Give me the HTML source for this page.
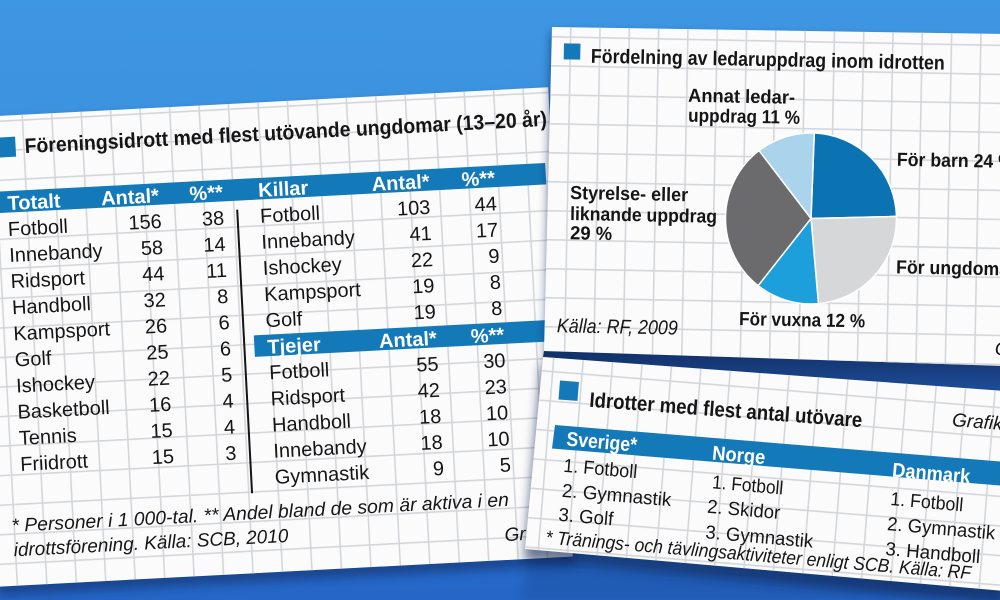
<!DOCTYPE html>
<html>
<head>
<meta charset="utf-8">
<style>
  html, body { margin:0; padding:0; width:1000px; height:600px; overflow:hidden; background:#3a8ddc; }
  svg { display:block; }
  text { font-family: "Liberation Sans", sans-serif; }
</style>
</head>
<body>
<svg width="1000" height="600" viewBox="0 0 1000 600" xmlns="http://www.w3.org/2000/svg">
  <defs>
    <linearGradient id="bg" x1="0" y1="0" x2="0" y2="1">
      <stop offset="0" stop-color="#3e97e3"/>
      <stop offset="0.5" stop-color="#388bdb"/>
      <stop offset="1" stop-color="#2566c6"/>
    </linearGradient>
    <linearGradient id="band" x1="0" y1="0" x2="0" y2="1">
      <stop offset="0" stop-color="#122f66"/>
      <stop offset="1" stop-color="#1f4f9c"/>
    </linearGradient>
    <filter id="sh" x="-20%" y="-20%" width="140%" height="140%">
      <feGaussianBlur stdDeviation="5"/>
    </filter>
    <pattern id="g1" patternUnits="userSpaceOnUse" x="22" y="4.5" width="29.5" height="29.5">
      <path d="M0 0.8H29.5M0.8 0V29.5" stroke="#d3d6da" stroke-width="1.6" fill="none"/>
    </pattern>
    <pattern id="g2" patternUnits="userSpaceOnUse" x="570" y="36" width="29.3" height="29" patternTransform="rotate(1.1 552 27)">
      <path d="M0 0.8H29.3M0.8 0V29" stroke="#d3d6da" stroke-width="1.6" fill="none"/>
    </pattern>
    <pattern id="g3" patternUnits="userSpaceOnUse" x="553" y="370" width="29.5" height="29.5" patternTransform="rotate(4.6 543 357)">
      <path d="M0 0.8H29.5M0.8 0V29.5" stroke="#d3d6da" stroke-width="1.6" fill="none"/>
    </pattern>
  </defs>

  <!-- background -->
  <rect width="1000" height="600" fill="url(#bg)"/>
  <polygon points="530,560 1005,585 1005,600 520,600" fill="#1d4fa2" opacity="0.5" filter="url(#sh)"/>

  <!-- ================= CARD 1 ================= -->
  <g transform="translate(-30 117.5) rotate(-3)" fill="#151515">
    <rect x="3" y="7" width="579" height="472" fill="#0b2456" opacity="0.5" filter="url(#sh)"/>
    <rect width="579" height="470" fill="#fbfbfb"/>
    <rect width="579" height="470" fill="url(#g1)"/>
    <rect x="24" y="21.5" width="20" height="20" fill="#1479b8"/>
    <text x="53" y="38.5" font-size="21" font-weight="bold" textLength="523" lengthAdjust="spacingAndGlyphs">Föreningsidrott med flest utövande ungdomar (13–20 år)</text>

    <rect x="0" y="75.5" width="572" height="21.5" fill="#1479b8"/>
    <rect x="272" y="232.5" width="300" height="21.5" fill="#1479b8"/>

    <g fill="#ffffff" font-size="20" font-weight="bold">
      <text x="33" y="94.5">Totalt</text>
      <text x="184.5" y="94.5" text-anchor="end">Antal*</text>
      <text x="248.5" y="94.5" text-anchor="end">%**</text>
      <text x="284" y="94.5">Killar</text>
      <text x="455.5" y="94.5" text-anchor="end">Antal*</text>
      <text x="521" y="94.5" text-anchor="end">%**</text>
      <text x="285" y="251.5">Tjejer</text>
      <text x="454.5" y="251.5" text-anchor="end">Antal*</text>
      <text x="522" y="251.5" text-anchor="end">%**</text>
    </g>

    <line x1="262" y1="106" x2="262" y2="390" stroke="#151515" stroke-width="2"/>

    <g font-size="20">
      <!-- left table -->
      <text x="32" y="120.3">Fotboll</text><text x="186" y="120.3" text-anchor="end">156</text><text x="248.5" y="120.3" text-anchor="end">38</text>
      <text x="32" y="146.45">Innebandy</text><text x="186" y="146.45" text-anchor="end">58</text><text x="248.5" y="146.45" text-anchor="end">14</text>
      <text x="32" y="172.6">Ridsport</text><text x="186" y="172.6" text-anchor="end">44</text><text x="248.5" y="172.6" text-anchor="end">11</text>
      <text x="32" y="198.75">Handboll</text><text x="186" y="198.75" text-anchor="end">32</text><text x="248.5" y="198.75" text-anchor="end">8</text>
      <text x="32" y="224.9">Kampsport</text><text x="186" y="224.9" text-anchor="end">26</text><text x="248.5" y="224.9" text-anchor="end">6</text>
      <text x="32" y="251.05">Golf</text><text x="186" y="251.05" text-anchor="end">25</text><text x="248.5" y="251.05" text-anchor="end">6</text>
      <text x="32" y="277.2">Ishockey</text><text x="186" y="277.2" text-anchor="end">22</text><text x="248.5" y="277.2" text-anchor="end">5</text>
      <text x="32" y="303.35">Basketboll</text><text x="186" y="303.35" text-anchor="end">16</text><text x="248.5" y="303.35" text-anchor="end">4</text>
      <text x="32" y="329.5">Tennis</text><text x="186" y="329.5" text-anchor="end">15</text><text x="248.5" y="329.5" text-anchor="end">4</text>
      <text x="32" y="355.65">Friidrott</text><text x="186" y="355.65" text-anchor="end">15</text><text x="248.5" y="355.65" text-anchor="end">3</text>

      <!-- Killar -->
      <text x="284.5" y="120.3">Fotboll</text><text x="455" y="120.3" text-anchor="end">103</text><text x="521.5" y="120.3" text-anchor="end">44</text>
      <text x="284.5" y="146.45">Innebandy</text><text x="455" y="146.45" text-anchor="end">41</text><text x="521.5" y="146.45" text-anchor="end">17</text>
      <text x="284.5" y="172.6">Ishockey</text><text x="455" y="172.6" text-anchor="end">22</text><text x="521.5" y="172.6" text-anchor="end">9</text>
      <text x="284.5" y="198.75">Kampsport</text><text x="455" y="198.75" text-anchor="end">19</text><text x="521.5" y="198.75" text-anchor="end">8</text>
      <text x="284.5" y="224.9">Golf</text><text x="455" y="224.9" text-anchor="end">19</text><text x="521.5" y="224.9" text-anchor="end">8</text>

      <!-- Tjejer -->
      <text x="285.5" y="277.2">Fotboll</text><text x="455" y="277.2" text-anchor="end">55</text><text x="522" y="277.2" text-anchor="end">30</text>
      <text x="285.5" y="303.35">Ridsport</text><text x="455" y="303.35" text-anchor="end">42</text><text x="522" y="303.35" text-anchor="end">23</text>
      <text x="285.5" y="329.5">Handboll</text><text x="455" y="329.5" text-anchor="end">18</text><text x="522" y="329.5" text-anchor="end">10</text>
      <text x="285.5" y="355.65">Innebandy</text><text x="455" y="355.65" text-anchor="end">18</text><text x="522" y="355.65" text-anchor="end">10</text>
      <text x="285.5" y="381.8">Gymnastik</text><text x="455" y="381.8" text-anchor="end">9</text><text x="522" y="381.8" text-anchor="end">5</text>
    </g>

    <g font-size="19" font-style="italic">
      <text x="20" y="416" textLength="498" lengthAdjust="spacingAndGlyphs">* Personer i 1 000-tal. ** Andel bland de som är aktiva i en</text>
      <text x="21" y="440.5" textLength="275" lengthAdjust="spacingAndGlyphs">idrottsförening. Källa: SCB, 2010</text>
      <text x="512" y="451">Grafik</text>
    </g>
  </g>

  <!-- ================= CARD 2 ================= -->
  <polygon points="552,33 1005,42 1005,378 546,361" fill="#0a2250" opacity="0.75" filter="url(#sh)"/>
  <polygon points="544,351 1005,366 1005,392 543,357" fill="url(#band)"/>
  <polygon points="552,27 1005,34 1005,366 544,351" fill="#fbfbfb"/>
  <polygon points="552,27 1005,34 1005,366 544,351" fill="url(#g2)"/>

  <g transform="translate(552 27) rotate(1.1)" fill="#151515" font-weight="bold">
    <rect x="12.3" y="16.1" width="16.5" height="16" fill="#1479b8"/>
    <text x="39.4" y="35" font-size="20" textLength="354" lengthAdjust="spacingAndGlyphs">Fördelning av ledaruppdrag inom idrotten</text>
    <text x="137.4" y="72.1" font-size="19" textLength="107" lengthAdjust="spacingAndGlyphs">Annat ledar-</text>
    <text x="137.8" y="92.1" font-size="19" textLength="112" lengthAdjust="spacingAndGlyphs">uppdrag 11 %</text>
    <text x="21.3" y="171.6" font-size="19" textLength="118" lengthAdjust="spacingAndGlyphs">Styrelse- eller</text>
    <text x="21.7" y="192.6" font-size="19" textLength="147" lengthAdjust="spacingAndGlyphs">liknande uppdrag</text>
    <text x="22.1" y="211.9" font-size="19" textLength="42" lengthAdjust="spacingAndGlyphs">29 %</text>
    <text x="347.4" y="132.1" font-size="19" textLength="117" lengthAdjust="spacingAndGlyphs">För barn 24 %</text>
    <text x="348.7" y="239.7" font-size="19" textLength="165" lengthAdjust="spacingAndGlyphs">För ungdomar 24 %</text>
    <text x="192.7" y="294.4" font-size="19" textLength="126" lengthAdjust="spacingAndGlyphs">För vuxna 12 %</text>
    <text x="10.6" y="305.1" font-size="20" font-weight="normal" font-style="italic" textLength="121" lengthAdjust="spacingAndGlyphs">Källa: RF, 2009</text>
    <text x="449" y="319.5" font-size="19" font-weight="normal" font-style="italic">Grafik</text>
  </g>

  <!-- pie -->
  <g stroke="#ffffff" stroke-width="1.5" stroke-linejoin="round">
    <path d="M811,218.5 L814.28,133.06 A85.5,85.5 0 0 1 896.47,216.41 Z" fill="#0b73b2"/>
    <path d="M811,218.5 L896.47,216.41 A85.5,85.5 0 0 1 818.45,303.67 Z" fill="#d6d7d9"/>
    <path d="M811,218.5 L818.45,303.67 A85.5,85.5 0 0 1 758.13,285.69 Z" fill="#1c9fda"/>
    <path d="M811,218.5 L758.13,285.69 A85.5,85.5 0 0 1 759.07,150.58 Z" fill="#6b6b6d"/>
    <path d="M811,218.5 L759.07,150.58 A85.5,85.5 0 0 1 814.28,133.06 Z" fill="#a9d4eb"/>
  </g>

  <!-- ================= CARD 3 ================= -->
  <polygon points="541,364 1005,399 1005,604 524,560" fill="#0a2250" opacity="0.6" filter="url(#sh)"/>
  <polygon points="543,357 1005,391 1005,591 525,549" fill="#fbfbfb"/>
  <polygon points="543,357 1005,391 1005,591 525,549" fill="url(#g3)"/>

  <rect x="560" y="380.5" width="19" height="19" transform="rotate(4.5 560 380.5)" fill="#1479b8"/>
  <text x="589" y="406.7" transform="rotate(4.3 589 406.7)" font-size="21" font-weight="bold" fill="#151515" textLength="273.5" lengthAdjust="spacingAndGlyphs">Idrotter med flest antal utövare</text>
  <text x="951.7" y="426" transform="rotate(4.5 951.7 426)" font-size="19" font-style="italic" fill="#151515">Grafik: TT</text>

  <polygon points="555,425 1005,461.9 1005,485.9 552,448.5" fill="#1479b8"/>
  <g fill="#ffffff" font-size="20" font-weight="bold">
    <text x="566" y="445.5" transform="rotate(5 566 445.5)" textLength="70.7" lengthAdjust="spacingAndGlyphs">Sverige*</text>
    <text x="711.7" y="459.5" transform="rotate(5 711.7 459.5)" textLength="53.3" lengthAdjust="spacingAndGlyphs">Norge</text>
    <text x="891.7" y="476.5" transform="rotate(5 891.7 476.5)" textLength="78.3" lengthAdjust="spacingAndGlyphs">Danmark</text>
  </g>

  <g fill="#151515" font-size="19">
    <text x="563" y="471.7" transform="rotate(5 563 471.7)" textLength="74" lengthAdjust="spacingAndGlyphs">1. Fotboll</text>
    <text x="561.5" y="496.7" transform="rotate(5 561.5 496.7)" textLength="109.7" lengthAdjust="spacingAndGlyphs">2. Gymnastik</text>
    <text x="558" y="520.7" transform="rotate(5 558 520.7)" textLength="55" lengthAdjust="spacingAndGlyphs">3. Golf</text>

    <text x="711.7" y="488.3" transform="rotate(5 711.7 488.3)" textLength="71.3" lengthAdjust="spacingAndGlyphs">1. Fotboll</text>
    <text x="706.7" y="512.7" transform="rotate(5 706.7 512.7)" textLength="73.3" lengthAdjust="spacingAndGlyphs">2. Skidor</text>
    <text x="705" y="538.3" transform="rotate(5 705 538.3)" textLength="108" lengthAdjust="spacingAndGlyphs">3. Gymnastik</text>

    <text x="890" y="505" transform="rotate(5 890 505)" textLength="73" lengthAdjust="spacingAndGlyphs">1. Fotboll</text>
    <text x="886.7" y="530" transform="rotate(5 886.7 530)" textLength="108.3" lengthAdjust="spacingAndGlyphs">2. Gymnastik</text>
    <text x="885" y="555" transform="rotate(5 885 555)" textLength="95" lengthAdjust="spacingAndGlyphs">3. Handboll</text>

    <text x="545" y="543.5" transform="rotate(4.8 545 543.5)" font-style="italic" textLength="427" lengthAdjust="spacingAndGlyphs">* Tränings- och tävlingsaktiviteter enligt SCB. Källa: RF</text>
  </g>
</svg>
</body>
</html>
